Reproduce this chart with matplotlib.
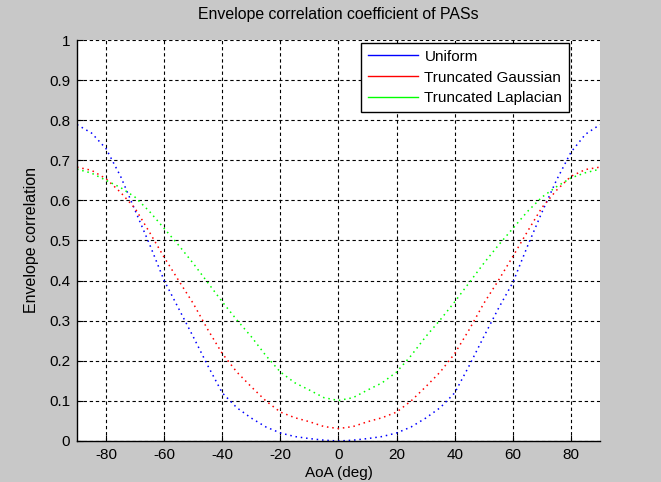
#!/usr/bin/env python3
"""
Envelope correlation coefficient of PASs (MATLAB-style figure).
"""

import matplotlib
matplotlib.use('Agg')
import matplotlib.pyplot as plt

# angle of arrival, degrees
aoa = [-90, -85, -80, -75, -70, -65, -60, -55, -50, -45, -40, -35, -30,
       -25, -20, -15, -10, -5, 0, 5, 10, 15, 20, 25, 30, 35, 40, 45,
       50, 55, 60, 65, 70, 75, 80, 85, 90]

uniform = [0.789, 0.768, 0.729, 0.660, 0.575, 0.490, 0.400, 0.330, 0.260,
           0.188, 0.120, 0.083, 0.057, 0.035, 0.020, 0.011, 0.006, 0.002,
           0.000, 0.002, 0.006, 0.011, 0.020, 0.035, 0.057, 0.083, 0.120,
           0.188, 0.260, 0.330, 0.395, 0.485, 0.570, 0.650, 0.720, 0.765,
           0.789]

gaussian = [0.683, 0.675, 0.654, 0.620, 0.580, 0.520, 0.458, 0.400, 0.343,
            0.278, 0.218, 0.172, 0.135, 0.100, 0.072, 0.058, 0.048, 0.036,
            0.031, 0.036, 0.048, 0.058, 0.072, 0.100, 0.135, 0.172, 0.218,
            0.278, 0.343, 0.400, 0.460, 0.522, 0.582, 0.625, 0.660, 0.677,
            0.683]

laplacian = [0.678, 0.668, 0.650, 0.632, 0.608, 0.572, 0.530, 0.488, 0.443,
             0.395, 0.347, 0.302, 0.260, 0.213, 0.172, 0.145, 0.127, 0.108,
             0.101, 0.108, 0.127, 0.145, 0.172, 0.213, 0.260, 0.302, 0.347,
             0.395, 0.443, 0.488, 0.530, 0.572, 0.608, 0.634, 0.656, 0.669,
             0.678]

xticks = [-80, -60, -40, -20, 0, 20, 40, 60, 80]
yticks = [0, 0.1, 0.2, 0.3, 0.4, 0.5, 0.6, 0.7, 0.8, 0.9, 1]
ytick_labels = ['0', '0.1', '0.2', '0.3', '0.4', '0.5', '0.6', '0.7',
                '0.8', '0.9', '1']

plt.rcParams['font.family'] = ['Liberation Sans', 'DejaVu Sans']
plt.rcParams['font.size'] = 11
plt.rcParams['axes.unicode_minus'] = False

fig = plt.figure(figsize=(6.61, 4.82), dpi=100, facecolor='#c8c8c8')
ax = fig.add_axes([0.1165, 0.0851, 0.7912, 0.8319])
ax.set_facecolor('white')

dots = (0, (1, 2.5))
ax.plot(aoa, uniform, color='#0000ff', linestyle=dots, lw=1.1, label='Uniform')
ax.plot(aoa, gaussian, color='#ff0000', linestyle=dots, lw=1.1,
        label='Truncated Gaussian')
ax.plot(aoa, laplacian, color='#00ff00', linestyle=dots, lw=1.1,
        label='Truncated Laplacian')

ax.set_xlim(-90, 90)
ax.set_ylim(0, 1)
ax.set_xticks(xticks)
ax.set_yticks(yticks)
ax.set_yticklabels(ytick_labels)
ax.tick_params(direction='in', length=4, pad=5, colors='black')
ax.grid(True, color='black', linestyle=(0, (3, 2.5)), linewidth=0.8)
ax.set_axisbelow(True)
for side in ('top', 'right'):
    ax.spines[side].set_visible(False)
for side in ('left', 'bottom'):
    ax.spines[side].set_linewidth(1.0)

ax.set_title('Envelope correlation coefficient of PASs', fontsize=11.4, pad=15)
ax.set_xlabel('AoA (deg)', labelpad=3)
ax.set_ylabel('Envelope correlation', fontsize=11.5, labelpad=7)

# legend handles drawn as solid lines
leg = ax.legend(loc='upper right', bbox_to_anchor=(0.941, 0.993),
                fancybox=False, framealpha=1, edgecolor='black',
                handlelength=3.3, handletextpad=0.4, labelspacing=0.45,
                borderpad=0.45, borderaxespad=0)
leg.get_frame().set_linewidth(1.0)
for line in leg.get_lines():
    line.set_linestyle('-')
    line.set_linewidth(1.0)

fig.savefig('out.png', dpi=100, facecolor=fig.get_facecolor())
